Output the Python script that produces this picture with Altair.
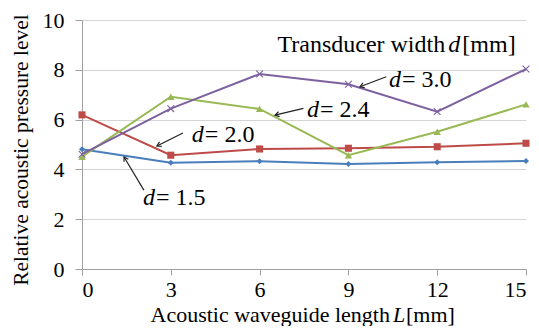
import math
import altair as alt
import pandas as pd

# ---- data ----
L_mm = [0, 3, 6, 9, 12, 15]
d15 = [4.81, 4.27, 4.33, 4.22, 4.29, 4.34]
d20 = [6.19, 4.57, 4.82, 4.85, 4.91, 5.05]
d24 = [4.51, 6.92, 6.43, 4.57, 5.51, 6.61]
d30 = [4.61, 6.44, 7.83, 7.42, 6.32, 8.03]
series_names = ["d = 1.5", "d = 2.0", "d = 2.4", "d = 3.0"]
series_values = [d15, d20, d24, d30]
colors = ["#4a7ebb", "#be4b48", "#98b954", "#7d60a0"]
x_ticks = [0, 3, 6, 9, 12, 15]
y_ticks = [0, 2, 4, 6, 8, 10]

# annotation labels (data coordinates)
ann_label = ["= 1.5", "= 2.0", "= 2.4", "= 3.0"]
ann_split_x = [2.50, 4.15, 8.04, 10.81]
ann_y = [2.85, 5.38, 6.39, 7.59]
arrow_tail_x = [2.09, 3.41, 7.48, 10.28]
arrow_tail_y = [3.17, 5.46, 6.45, 7.72]
arrow_head_x = [1.42, 2.53, 6.52, 9.39]
arrow_head_y = [4.50, 4.94, 6.18, 7.32]

FONT = "Liberation Serif"
W, H = 444, 249
XMAX, YMAX = 15, 10

xs = alt.Scale(domain=[0, XMAX], nice=False, zero=False)
ys = alt.Scale(domain=[0, YMAX], nice=False)

rows = []
for name, vals in zip(series_names, series_values):
    for x, v in zip(L_mm, vals):
        rows.append({"series": name, "x": x, "y": v})
df = pd.DataFrame(rows)

base = alt.Chart(df)

lines = base.mark_line(strokeWidth=2).encode(
    x=alt.X("x:Q", scale=xs,
            axis=alt.Axis(values=x_ticks, title=None, grid=False, tickSize=6,
                          tickColor="#a0a0a0", domainColor="#a0a0a0",
                          labelFont=FONT, labelFontSize=22, labelColor="#000",
                          labelPadding=4)),
    y=alt.Y("y:Q", scale=ys,
            axis=alt.Axis(values=y_ticks, title=None, grid=True, gridColor="#d4d4d4",
                          tickSize=7, tickColor="#a0a0a0", domainColor="#a0a0a0",
                          labelFont=FONT, labelFontSize=22, labelColor="#000",
                          labelPadding=11)),
    color=alt.Color("series:N", scale=alt.Scale(domain=series_names, range=colors), legend=None),
    detail="series:N",
)

shapes = ["diamond", "square", "triangle-up", "M-1,-1L1,1M-1,1L1,-1"]
sizes = [36, 50, 55, 45]
point_layers = []
for i, name in enumerate(series_names):
    sub = base.transform_filter(alt.datum.series == name)
    if i < 3:
        m = sub.mark_point(shape=shapes[i], filled=True, size=sizes[i], color=colors[i], opacity=1)
    else:
        m = sub.mark_point(shape=shapes[i], filled=False, size=sizes[i], color=colors[i],
                           strokeWidth=1.1, opacity=1)
    point_layers.append(m.encode(x=alt.X("x:Q", scale=xs), y=alt.Y("y:Q", scale=ys)))

# arrows
px_per_x = W / XMAX
px_per_y = H / YMAX
arr = pd.DataFrame({
    "tx": arrow_tail_x, "ty": arrow_tail_y, "hx": arrow_head_x, "hy": arrow_head_y,
})
arr["ang"] = [
    math.degrees(math.atan2(-(hy - ty) * px_per_y, (hx - tx) * px_per_x)) % 360
    for tx, ty, hx, hy in zip(arrow_tail_x, arrow_tail_y, arrow_head_x, arrow_head_y)
]
arrow_lines = alt.Chart(arr).mark_rule(color="#222", strokeWidth=1.2).encode(
    x=alt.X("tx:Q", scale=xs), y=alt.Y("ty:Q", scale=ys), x2="hx:Q", y2="hy:Q")
arrow_heads = alt.Chart(arr).mark_point(
    shape="M-1,-0.6L0,0L-1,0.6", filled=False, color="#222", strokeWidth=1.2, size=70, opacity=1
).encode(x=alt.X("hx:Q", scale=xs), y=alt.Y("hy:Q", scale=ys),
         angle=alt.Angle("ang:Q", scale=None))

ann = pd.DataFrame({"x": ann_split_x, "y": ann_y, "label": ann_label})
ann_d = alt.Chart(ann).mark_text(text="d", font=FONT, fontSize=24, fontStyle="italic",
                                 align="right", baseline="middle", dx=-1, color="#000").encode(
    x=alt.X("x:Q", scale=xs), y=alt.Y("y:Q", scale=ys))
ann_t = alt.Chart(ann).mark_text(font=FONT, fontSize=24, align="left", baseline="middle",
                                 color="#000").encode(
    x=alt.X("x:Q", scale=xs), y=alt.Y("y:Q", scale=ys), text="label:N")

# "Transducer width d [mm]"
tw_label = ["Transducer width", "d", "[mm]"]
tw_x = [12.27, 12.58, 12.85]
tw_align = ["right", "center", "left"]
tw_style = ["normal", "italic", "normal"]
tw_layers = []
for lab, xv, al, st in zip(tw_label, tw_x, tw_align, tw_style):
    r = pd.DataFrame({"x": [xv], "y": [9.0], "label": [lab]})
    tw_layers.append(alt.Chart(r).mark_text(font=FONT, fontSize=24, align=al,
                                            fontStyle=st, baseline="middle",
                                            color="#000").encode(
        x=alt.X("x:Q", scale=xs), y=alt.Y("y:Q", scale=ys), text="label:N"))

# axis titles as text marks (italic L)
one = pd.DataFrame({"k": [0]})
xt1 = alt.Chart(one).mark_text(text="Acoustic waveguide length", font=FONT, fontSize=22,
                               align="right", baseline="middle", color="#000").encode(
    x=alt.value(308), y=alt.value(295))
xt2 = alt.Chart(one).mark_text(text="L", font=FONT, fontSize=22, fontStyle="italic",
                               align="center", baseline="middle", color="#000").encode(
    x=alt.value(317), y=alt.value(295))
xt3 = alt.Chart(one).mark_text(text="[mm]", font=FONT, fontSize=22,
                               align="left", baseline="middle", color="#000").encode(
    x=alt.value(324), y=alt.value(295))
yt = alt.Chart(one).mark_text(text="Relative acoustic pressure level", font=FONT, fontSize=21.5,
                              align="center", baseline="middle", angle=270, color="#000").encode(
    x=alt.value(-60), y=alt.value(130))

chart = alt.layer(
    lines, *point_layers, arrow_lines, arrow_heads, ann_d, ann_t, *tw_layers, xt1, xt2, xt3, yt
).properties(
    width=W, height=H,
    autosize=alt.AutoSizeParams(type="none"),
    padding={"left": 74, "top": 12, "right": 5, "bottom": 57},
    view=alt.ViewBackground(stroke=None),
).configure(font=FONT)

chart.save("out.html", embed_options={"renderer": "svg", "actions": False})
